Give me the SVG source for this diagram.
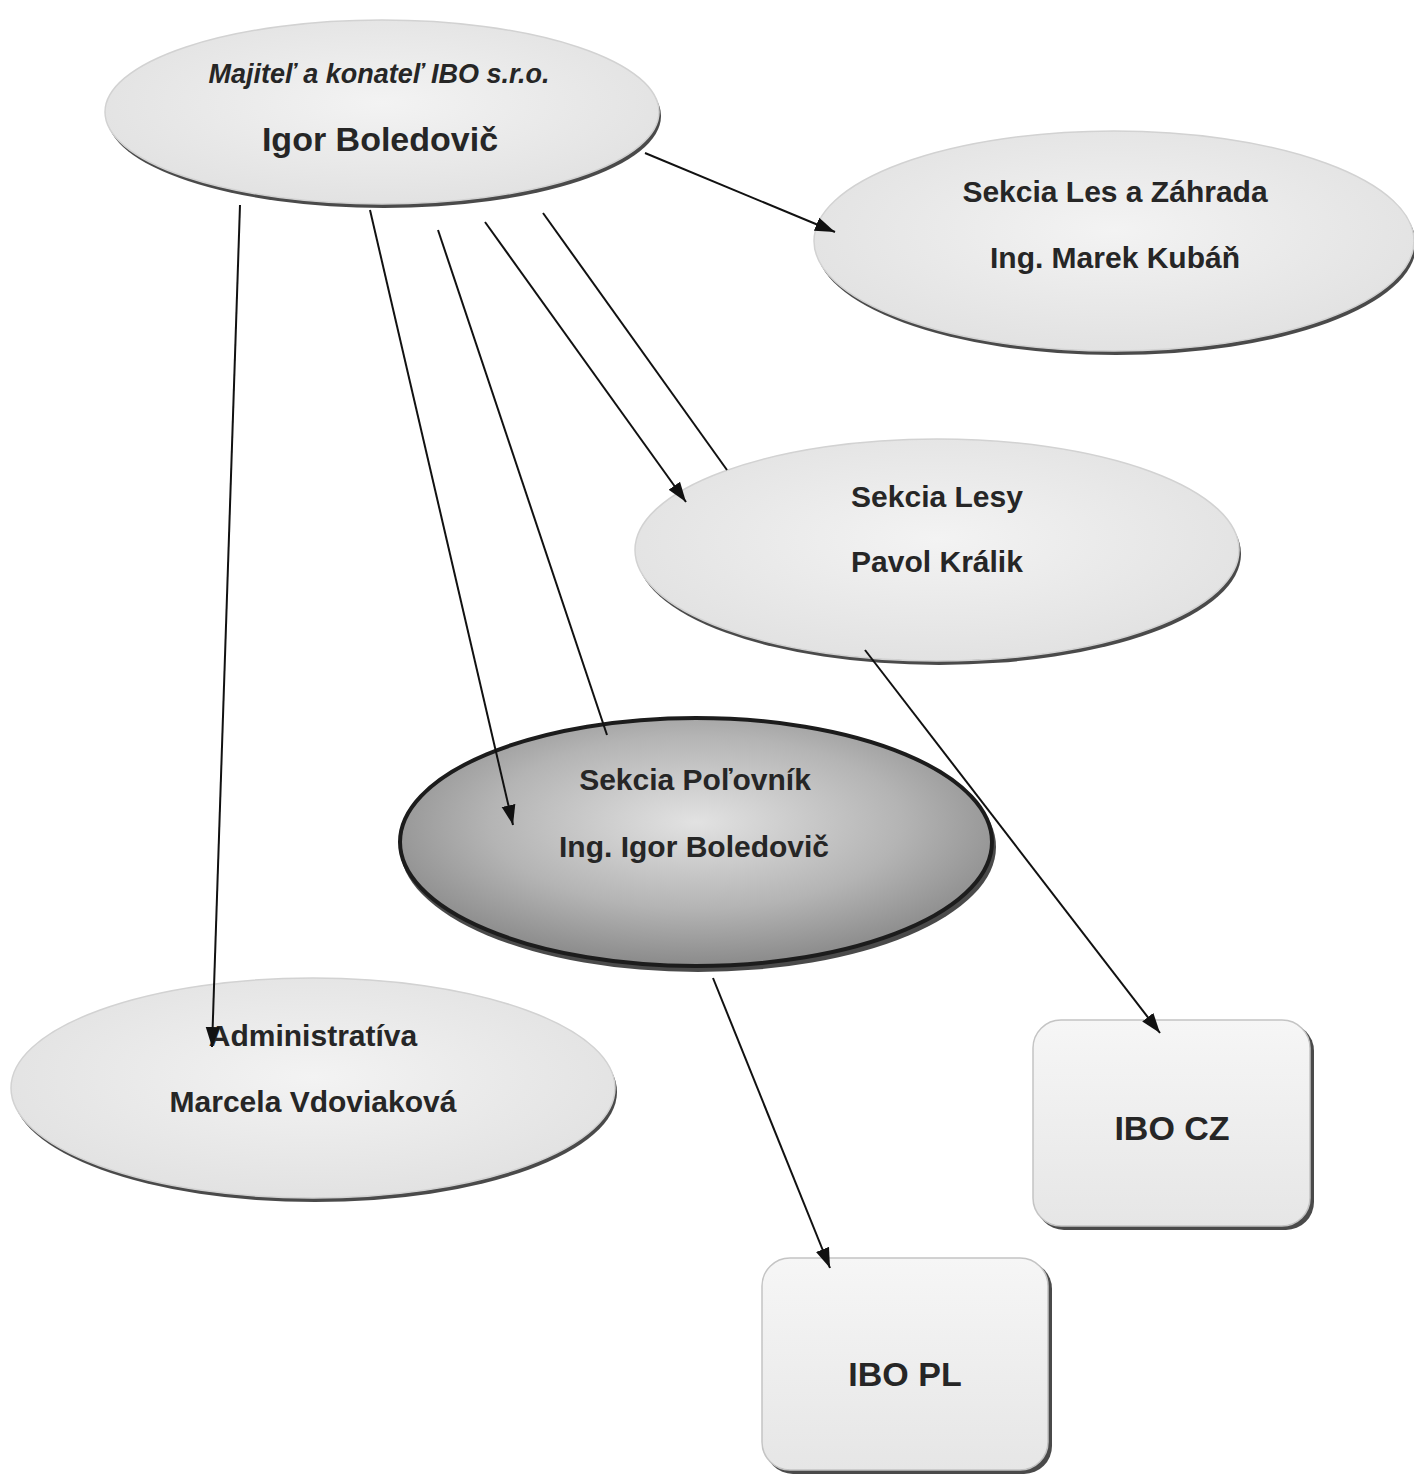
<svg xmlns="http://www.w3.org/2000/svg" width="1414" height="1475" viewBox="0 0 1414 1475">
<style>
.lbl{font-family:"Liberation Sans",Arial,sans-serif;font-weight:bold;fill:#262626;text-anchor:middle}
.it{font-style:italic}
.shadow{fill:#4a4a4a}
.light{fill:url(#gLight);stroke:#d2d2d2;stroke-width:1.5}
.dark{fill:url(#gDark);stroke:#1c1c1c;stroke-width:4}
.box{fill:url(#gBox);stroke:#c4c4c4;stroke-width:1.5}
.conn{stroke:#111;stroke-width:2;fill:none}
</style>
<defs>
<radialGradient id="gLight" cx="50%" cy="45%" r="55%">
<stop offset="0" stop-color="#f3f3f3"/>
<stop offset="1" stop-color="#e2e2e2"/>
</radialGradient>
<radialGradient id="gDark" cx="50%" cy="42%" r="58%">
<stop offset="0" stop-color="#e2e2e2"/>
<stop offset="0.6" stop-color="#b4b4b4"/>
<stop offset="1" stop-color="#8a8a8a"/>
</radialGradient>
<linearGradient id="gBox" x1="0" y1="0" x2="0" y2="1">
<stop offset="0" stop-color="#f6f6f6"/>
<stop offset="1" stop-color="#e6e6e6"/>
</linearGradient>
<marker id="arr" markerUnits="userSpaceOnUse" markerWidth="22" markerHeight="16" refX="20" refY="8" orient="auto">
<path d="M0,1 L20,8 L0,15 Z" fill="#111"/>
</marker>
</defs>
<rect width="1414" height="1475" fill="#ffffff"/>

<g id="node-owner">
<ellipse class="shadow" cx="384" cy="116" rx="277" ry="92"/>
<ellipse class="light" cx="382" cy="112" rx="277" ry="92"/>
<text class="lbl it" x="379" y="83" font-size="27">Majiteľ a konateľ IBO s.r.o.</text>
<text class="lbl" x="380" y="151" font-size="34">Igor Boledovič</text>
</g>

<g id="node-les-zahrada">
<ellipse class="shadow" cx="1116" cy="245" rx="300" ry="110"/>
<ellipse class="light" cx="1114" cy="241" rx="300" ry="110"/>
<text class="lbl" x="1115" y="202" font-size="30">Sekcia Les a Záhrada</text>
<text class="lbl" x="1115" y="268" font-size="30">Ing. Marek Kubáň</text>
</g>

<g id="node-lesy">
<ellipse class="shadow" cx="939" cy="554" rx="302" ry="111"/>
<ellipse class="light" cx="937" cy="550" rx="302" ry="111"/>
<text class="lbl" x="937" y="507" font-size="30">Sekcia Lesy</text>
<text class="lbl" x="937" y="572" font-size="30">Pavol Králik</text>
</g>

<g id="node-polovnik">
<ellipse class="shadow" cx="698" cy="847" rx="298" ry="125"/>
<ellipse class="dark" cx="696" cy="842" rx="296" ry="124"/>
<text class="lbl" x="695" y="790" font-size="30">Sekcia Poľovník</text>
<text class="lbl" x="694" y="857" font-size="30">Ing. Igor Boledovič</text>
</g>

<g id="node-admin">
<ellipse class="shadow" cx="315" cy="1092" rx="302" ry="110"/>
<ellipse class="light" cx="313" cy="1088" rx="302" ry="110"/>
<text class="lbl" x="313" y="1046" font-size="30">Administratíva</text>
<text class="lbl" x="313" y="1112" font-size="30">Marcela Vdoviaková</text>
</g>

<g id="node-ibo-cz">
<rect class="shadow" x="1036" y="1023" width="278" height="207" rx="28"/>
<rect class="box" x="1033" y="1020" width="277" height="206" rx="28"/>
<text class="lbl" x="1172" y="1140" font-size="34">IBO CZ</text>
</g>

<g id="node-ibo-pl">
<rect class="shadow" x="765" y="1261" width="287" height="213" rx="28"/>
<rect class="box" x="762" y="1258" width="286" height="212" rx="28"/>
<text class="lbl" x="905" y="1386" font-size="34">IBO PL</text>
</g>

<g id="connectors">
<line class="conn" x1="645" y1="153" x2="835" y2="232" marker-end="url(#arr)"/>
<line class="conn" x1="240" y1="205" x2="212" y2="1047" marker-end="url(#arr)"/>
<line class="conn" x1="370" y1="210" x2="513" y2="825" marker-end="url(#arr)"/>
<line class="conn" x1="438" y1="230" x2="607" y2="735"/>
<line class="conn" x1="485" y1="222" x2="686" y2="502" marker-end="url(#arr)"/>
<line class="conn" x1="543" y1="213" x2="727" y2="470"/>
<line class="conn" x1="865" y1="650" x2="1160" y2="1033" marker-end="url(#arr)"/>
<line class="conn" x1="713" y1="978" x2="830" y2="1268" marker-end="url(#arr)"/>
</g>
</svg>
